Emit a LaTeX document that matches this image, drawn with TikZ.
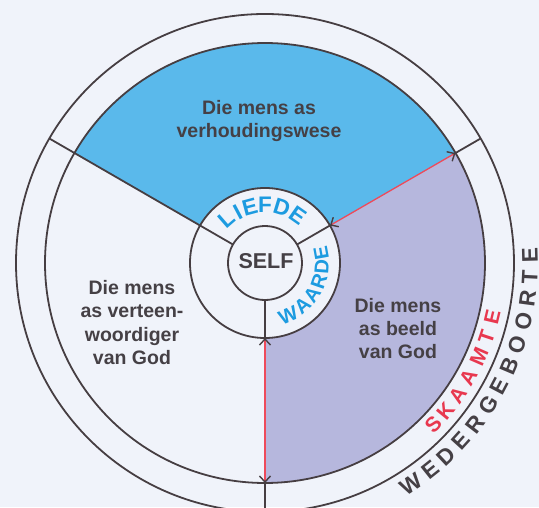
\documentclass[tikz,border=0pt]{standalone}
\usepackage{fontspec}
\setmainfont{Liberation Sans}
\usetikzlibrary{arrows.meta}
\definecolor{bg}{HTML}{F0F3FA}
\definecolor{skyb}{HTML}{5AB9EB}
\definecolor{lav}{HTML}{B6B7DD}
\definecolor{linec}{HTML}{463E42}
\definecolor{txtc}{HTML}{454045}
\definecolor{bluet}{HTML}{1D9BE0}
\definecolor{redl}{HTML}{EE4A5A}
\definecolor{redt}{HTML}{E8384F}
\begin{document}
\begin{tikzpicture}[x=1pt,y=1pt,
  ring/.style={draw=linec,line width=1.8pt},
  spoke/.style={draw=linec,line width=1.8pt},
  barb/.tip={Straight Barb[color=linec,length=6pt,width=11pt,line width=1.4pt]},
  redarrow/.style={draw=redl,line width=1.3pt,barb-barb},
  label/.style={text=txtc,align=center,font=\fontsize{19.5}{23.3}\selectfont\bfseries},
  lettA/.style={text=bluet,inner sep=0pt,font=\fontsize{22.5}{22.5}\selectfont\bfseries},
  lettB/.style={text=bluet,inner sep=0pt,font=\fontsize{20}{20}\selectfont\bfseries},
  lettS/.style={text=redt,inner sep=0pt,font=\fontsize{21}{21}\selectfont\bfseries},
  lettW/.style={text=txtc,inner sep=0pt,font=\fontsize{22.5}{22.5}\selectfont\bfseries}]
\useasboundingbox (-265,-244) rectangle (274,263);
\fill[bg] (-265,-244) rectangle (274,263);
% sectors
\fill[skyb] (30:75) arc[start angle=30,end angle=150,radius=75] -- (150:220) arc[start angle=150,end angle=30,radius=220] -- cycle;
\fill[lav] (-90:75) arc[start angle=-90,end angle=30,radius=75] -- (30:220) arc[start angle=30,end angle=-90,radius=220] -- cycle;
% circles
\draw[ring] (0,0) circle[radius=249];
\draw[ring] (0,0) circle[radius=220];
\draw[ring] (0,0) circle[radius=75];
\draw[ring] (0,0) circle[radius=37];
% coordinates
\coordinate (p150a) at (150:37);
\coordinate (p150b) at (150:249);
\coordinate (p30a) at (30:37);
\coordinate (p30b) at (30:75);
\coordinate (p30c) at (30:220);
\coordinate (p30d) at (30:249);
\coordinate (p270a) at (-90:37);
\coordinate (p270b) at (-90:75);
\coordinate (p270c) at (-90:220);
\coordinate (p270d) at (-90:249);
% spokes
\draw[spoke] (p150a) -- (p150b);
\draw[spoke] (p30a) -- (p30b);
\draw[spoke] (p30c) -- (p30d);
\draw[spoke] (p270a) -- (p270b);
\draw[spoke] (p270c) -- (p270d);
% red arrows
\draw[redarrow] (p30b) -- (p30c);
\draw[redarrow] (p270b) -- (p270c);
% labels
\node[label] (top) at (-6,142) {Die mens as\\verhoudingswese};
\node[label] (left) at (-133,-59.5) {Die mens\\as verteen-\\woordiger\\van God};
\node[label] (right) at (133,-65.5) {Die mens\\as beeld\\van God};
\node[label,font=\fontsize{21.5}{22}\selectfont\bfseries] (self) at (1,2) {SELF};
% LIEFDE
\foreach \c/\a [count=\i] in {L/131,I/118,E/105,F/90,D/73,E/55}
  \node[lettA,rotate=\a-90] (lief\i) at (\a:58) {\c};
% WAARDE
\foreach \c/\a [count=\i] in {W/-66,A/-48.8,A/-33.9,R/-19,D/-4.1,E/10.2}
  \node[lettB,rotate=\a+90] (waar\i) at (\a:57) {\c};
% SKAAMTE
\foreach \c/\a [count=\i] in {S/-43.9,K/-39.3,A/-34.4,A/-29.4,M/-23.6,T/-18.4,E/-13.3}
  \node[lettS,rotate=\a+90] (skaa\i) at (\a:233.5) {\c};
% WEDERGEBOORTE
\foreach \c/\a [count=\i] in {W/-56.6,E/-51.4,D/-46.8,E/-42.2,R/-37.4,G/-32.4,E/-27.7,B/-22.9,O/-18,O/-12.8,R/-7.7,T/-3,E/1.6}
  \node[lettW,rotate=\a+90] (wede\i) at (\a:265) {\c};
\end{tikzpicture}
\end{document}
